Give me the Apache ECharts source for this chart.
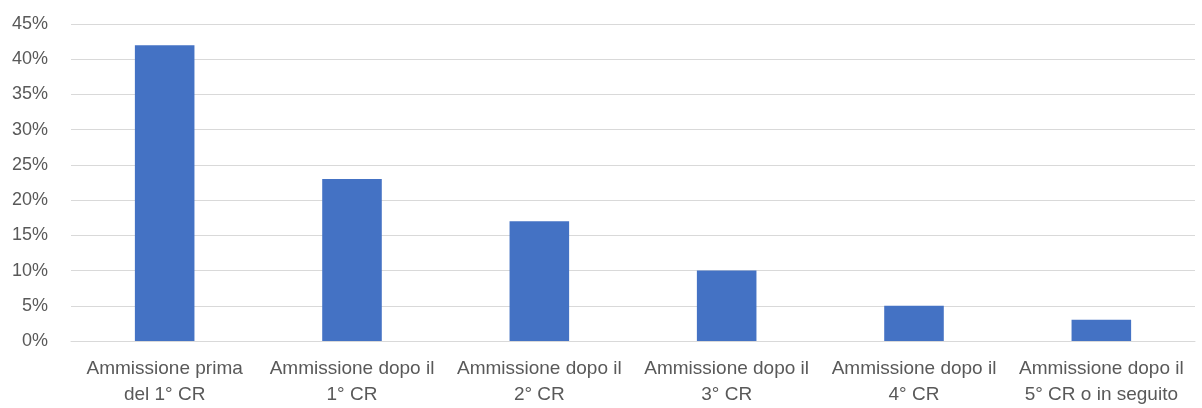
<!DOCTYPE html>
<html>
<head>
<meta charset="utf-8">
<script src="https://cdn.jsdelivr.net/npm/echarts@6/dist/echarts.min.js"></script>
<style>
  html, body { margin: 0; padding: 0; background: #fff; }
  #chart { width: 1202px; height: 408px; }
</style>
</head>
<body>
<div id="chart"></div>
<script>
    var categories = [
        'Ammissione prima\ndel 1° CR',
        'Ammissione dopo il\n1° CR',
        'Ammissione dopo il\n2° CR',
        'Ammissione dopo il\n3° CR',
        'Ammissione dopo il\n4° CR',
        'Ammissione dopo il\n5° CR o in seguito'
    ];
    var values = [42, 23, 17, 10, 5, 3];
    var yTicks = [0, 5, 10, 15, 20, 25, 30, 35, 40, 45];

    var labelFont = 'Liberation Sans Narrow, Liberation Sans, sans-serif';
    var myChart = echarts.init(document.getElementById('chart'));

    var option = {
        animation: false,
        grid: { left: 71, right: 7, top: 24, bottom: 66 },
        xAxis: {
            type: 'category',
            data: categories,
            axisLine: { show: true, lineStyle: { color: '#d9d9d9', width: 1 } },
            axisTick: { show: false },
            axisLabel: {
                interval: 0,
                color: '#595959',
                fontSize: 19,
                fontFamily: labelFont,
                lineHeight: 26,
                margin: 15
            }
        },
        yAxis: {
            type: 'value',
            min: yTicks[0],
            max: yTicks[yTicks.length - 1],
            interval: 5,
            axisLine: { show: false },
            axisTick: { show: false },
            splitLine: { lineStyle: { color: '#d9d9d9', width: 1 } },
            axisLabel: {
                color: '#595959',
                fontSize: 18,
                fontFamily: labelFont,
                margin: 23,
                formatter: function(v) { return v + '%'; }
            }
        },
        series: [{
            type: 'bar',
            data: values,
            barWidth: '31.8%',
            itemStyle: { color: '#4472c4' }
        }]
    };
    myChart.setOption(option);
</script>
</body>
</html>
